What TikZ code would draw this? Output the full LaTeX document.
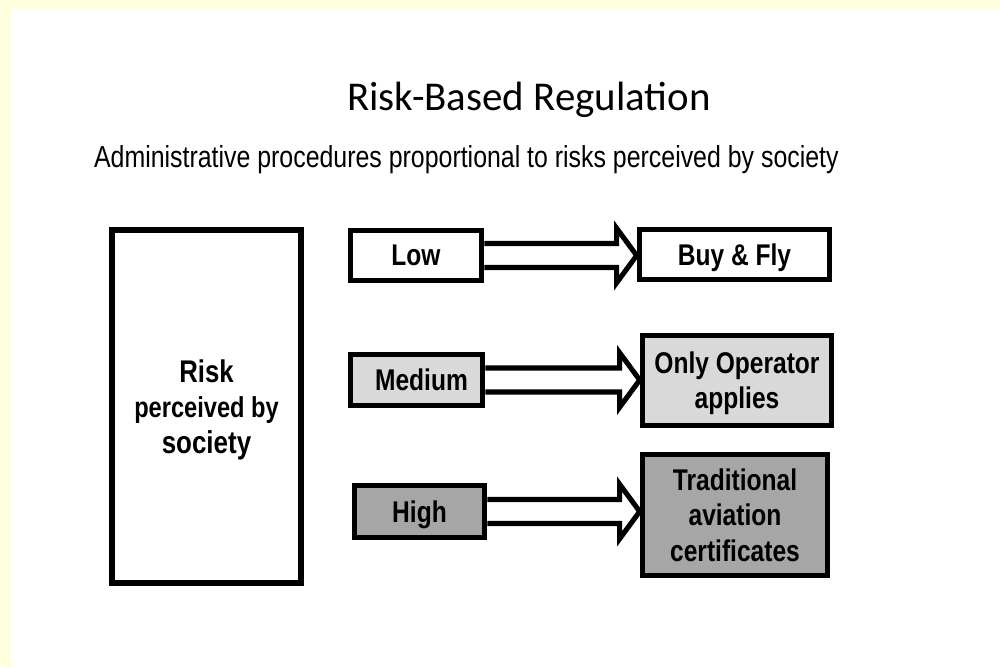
\documentclass[tikz,border=0pt]{standalone}
\usepackage{fontspec}
\setmainfont{Liberation Sans}[FakeStretch=0.82]
\newfontfamily\titlefont{Carlito}
\usetikzlibrary{calc}

\definecolor{framey}{HTML}{FFFFE0}
\definecolor{midgray}{HTML}{D9D9D9}
\definecolor{highgray}{HTML}{A6A6A6}

% hollow block arrow from one box to the next
\newcommand{\hollowarrow}[2]{%
  \draw[hollow] ($(#1.east)+(0,0.3)$) -- ($(#1.east -| #2.west)+(-0.5,0.3)$)
    -- ++(0,0.38) -- (#1.east -| #2.west) -- ++(-0.5,-0.68) -- ++(0,0.38)
    -- ($(#1.east)+(0,-0.3)$);}

\begin{document}
\begin{tikzpicture}[
    level/.style={rectangle, draw=black, line width=4pt, align=center, inner sep=2pt,
      text depth=0pt, font=\bfseries\fontsize{21.3}{25}\selectfont},
    result/.style={level},
    hollow/.style={draw=black, line width=3.6pt, fill=white, line join=miter}
]

% Background and frame
\fill[framey] (0,0) rectangle (25,-16.675);
\fill[white] (0.275,-0.225) rectangle (25,-16.675);
\useasboundingbox (0,0) rectangle (25,-16.675);

% Headings
\node[anchor=base, font=\titlefont\fontsize{29.1}{34}\selectfont] at (13.225,-2.77) (title) {Risk-Based Regulation};
\node[anchor=base, font=\fontsize{21.6}{25}\selectfont] at (11.66,-4.175) (subtitle) {Administrative procedures proportional to risks perceived by society};

% Left box
\node[level, line width=4.3pt, minimum width=4.725cm, minimum height=8.825cm] at (5.1625,-10.1625) (risk)
  {{\fontsize{22.3}{25}\selectfont Risk}\\{\fontsize{20.5}{25}\selectfont perceived by}\\{\fontsize{22.5}{25}\selectfont society}};

% Risk levels
\node[level, minimum width=3.275cm, minimum height=1.25cm] at (10.4,-6.3875) (low) {Low};
\node[level, fill=midgray, minimum width=3.3cm, minimum height=1.275cm] at (10.4125,-9.5) (medium) {\hspace{0.25cm}Medium};
\node[level, fill=highgray, minimum width=3.25cm, minimum height=1.3cm] at (10.4875,-12.7875) (high) {High};

% Procedures
\node[result, minimum width=4.75cm, minimum height=1.25cm] at (18.3625,-6.3625) (fly) {Buy \& Fly};
\node[result, fill=midgray, minimum width=4.725cm, minimum height=2.25cm] at (18.425,-9.5125) (operator) {Only Operator\\applies};
\node[result, fill=highgray, minimum width=4.625cm, minimum height=3.025cm] at (18.375,-12.875) (trad) {Traditional\\aviation\\certificates};

% Arrows
\hollowarrow{low}{fly}
\hollowarrow{medium}{operator}
\hollowarrow{high}{trad}

\end{tikzpicture}
\end{document}
